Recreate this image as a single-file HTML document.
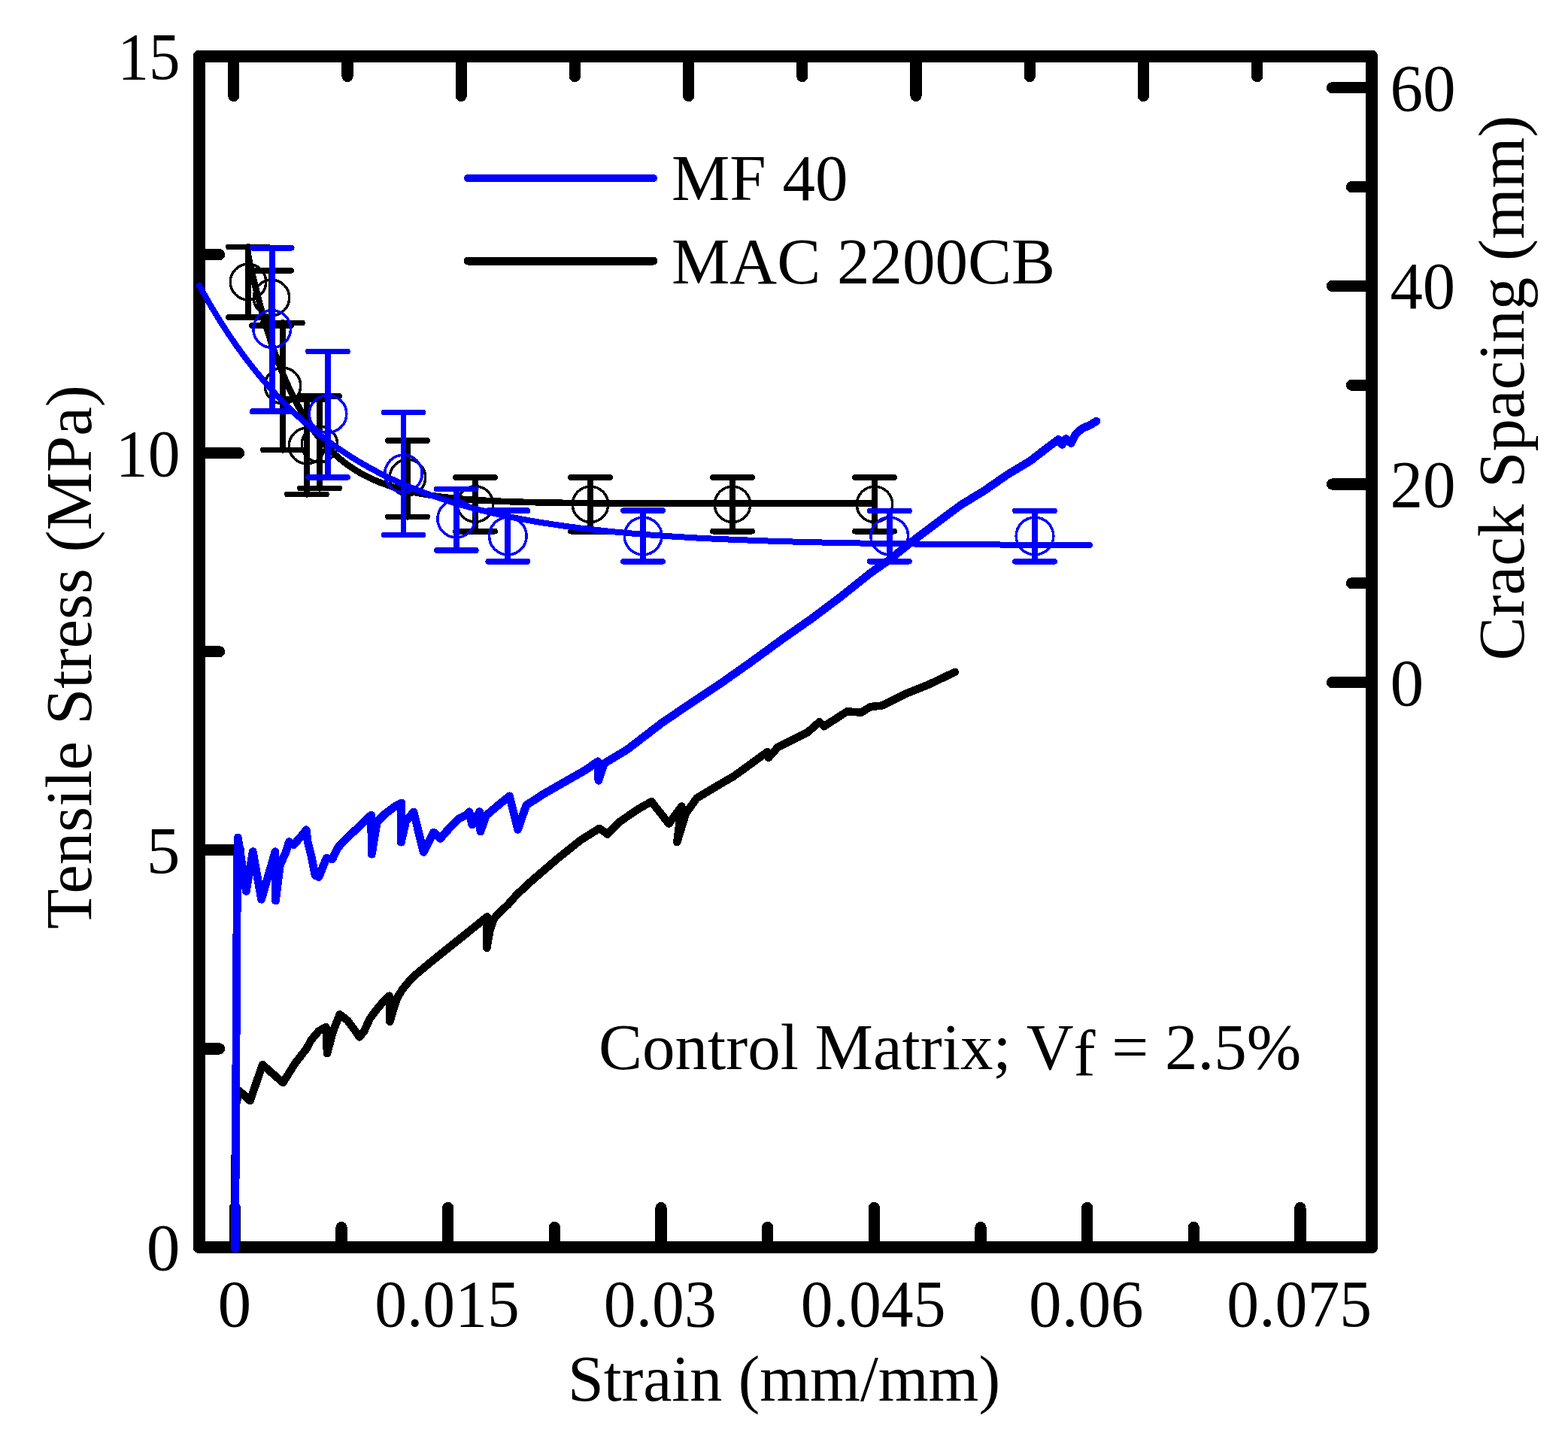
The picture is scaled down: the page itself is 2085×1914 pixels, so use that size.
<!DOCTYPE html>
<html><head><meta charset="utf-8"><title>Tensile stress and crack spacing vs strain</title>
<style>html,body{margin:0;padding:0;background:#fff;}body{width:2085px;height:1914px;overflow:hidden;}svg{display:block;}</style>
</head><body>
<svg width="2085" height="1914" viewBox="0 0 2085 1914" shape-rendering="crispEdges">
<rect x="0" y="0" width="2085" height="1914" fill="#fff"/>
<path d="M263.60,67.10H1825.40A6.5,6.5 0 0 1 1831.90,73.60V1660.40A6.5,6.5 0 0 1 1825.40,1666.90H263.60A6.5,6.5 0 0 1 257.10,1660.40V73.60A6.5,6.5 0 0 1 263.60,67.10ZM272.90,82.90V1651.10H1816.10V82.90Z" fill="#000" fill-rule="evenodd"/>
<g stroke="#000" stroke-width="15.2" stroke-linecap="round">
<line x1="310.8" y1="75.0" x2="310.8" y2="127.5"/>
<line x1="462.0" y1="75.0" x2="462.0" y2="101.5"/>
<line x1="613.2" y1="75.0" x2="613.2" y2="127.5"/>
<line x1="764.4" y1="75.0" x2="764.4" y2="101.5"/>
<line x1="915.6" y1="75.0" x2="915.6" y2="127.5"/>
<line x1="1066.8" y1="75.0" x2="1066.8" y2="101.5"/>
<line x1="1218.0" y1="75.0" x2="1218.0" y2="127.5"/>
<line x1="1369.2" y1="75.0" x2="1369.2" y2="101.5"/>
<line x1="1520.4" y1="75.0" x2="1520.4" y2="127.5"/>
<line x1="1671.6" y1="75.0" x2="1671.6" y2="101.5"/>
<line x1="312.4" y1="1659.0" x2="312.4" y2="1606.5"/>
<line x1="454.0" y1="1659.0" x2="454.0" y2="1632.5"/>
<line x1="595.7" y1="1659.0" x2="595.7" y2="1606.5"/>
<line x1="737.4" y1="1659.0" x2="737.4" y2="1632.5"/>
<line x1="879.0" y1="1659.0" x2="879.0" y2="1606.5"/>
<line x1="1020.6" y1="1659.0" x2="1020.6" y2="1632.5"/>
<line x1="1162.3" y1="1659.0" x2="1162.3" y2="1606.5"/>
<line x1="1304.0" y1="1659.0" x2="1304.0" y2="1632.5"/>
<line x1="1445.6" y1="1659.0" x2="1445.6" y2="1606.5"/>
<line x1="1587.2" y1="1659.0" x2="1587.2" y2="1632.5"/>
<line x1="1728.9" y1="1659.0" x2="1728.9" y2="1606.5"/>
<line x1="265.0" y1="1394.9" x2="291.5" y2="1394.9"/>
<line x1="265.0" y1="1130.8" x2="317.5" y2="1130.8"/>
<line x1="265.0" y1="866.8" x2="291.5" y2="866.8"/>
<line x1="265.0" y1="602.7" x2="317.5" y2="602.7"/>
<line x1="265.0" y1="338.6" x2="291.5" y2="338.6"/>
<line x1="1824.0" y1="907.6" x2="1771.5" y2="907.6"/>
<line x1="1824.0" y1="775.8" x2="1797.5" y2="775.8"/>
<line x1="1824.0" y1="644.0" x2="1771.5" y2="644.0"/>
<line x1="1824.0" y1="512.2" x2="1797.5" y2="512.2"/>
<line x1="1824.0" y1="380.4" x2="1771.5" y2="380.4"/>
<line x1="1824.0" y1="248.6" x2="1797.5" y2="248.6"/>
<line x1="1824.0" y1="116.8" x2="1771.5" y2="116.8"/>
</g>
<g font-family="'Liberation Serif', serif" font-size="87" fill="#000">
<text x="239.5" y="1689.3" text-anchor="end" font-size="89.5">0</text>
<text x="239.5" y="1161.1" text-anchor="end" font-size="89.5">5</text>
<text x="239.5" y="633.0" text-anchor="end" textLength="85.7" lengthAdjust="spacingAndGlyphs" font-size="89.5">10</text>
<text x="239.5" y="104.9" text-anchor="end" textLength="83" lengthAdjust="spacingAndGlyphs" font-size="89.5">15</text>
<text x="311.8" y="1763.5" text-anchor="middle" font-size="89.5">0</text>
<text x="594.5" y="1763.5" text-anchor="middle" textLength="192.7" lengthAdjust="spacingAndGlyphs" font-size="89.5">0.015</text>
<text x="877.8" y="1763.5" text-anchor="middle" textLength="149.9" lengthAdjust="spacingAndGlyphs" font-size="89.5">0.03</text>
<text x="1161.1" y="1763.5" text-anchor="middle" textLength="192.7" lengthAdjust="spacingAndGlyphs" font-size="89.5">0.045</text>
<text x="1444.4" y="1763.5" text-anchor="middle" textLength="152.6" lengthAdjust="spacingAndGlyphs" font-size="89.5">0.06</text>
<text x="1727.7" y="1763.5" text-anchor="middle" textLength="192.7" lengthAdjust="spacingAndGlyphs" font-size="89.5">0.075</text>
<text x="1848.5" y="937.6" text-anchor="start" font-size="89.5">0</text>
<text x="1848.5" y="674.0" text-anchor="start" textLength="87.2" lengthAdjust="spacingAndGlyphs" font-size="89.5">20</text>
<text x="1848.5" y="410.4" text-anchor="start" textLength="86.7" lengthAdjust="spacingAndGlyphs" font-size="89.5">40</text>
<text x="1848.5" y="146.8" text-anchor="start" textLength="87.2" lengthAdjust="spacingAndGlyphs" font-size="89.5">60</text>
<text x="1042.5" y="1863.0" text-anchor="middle" textLength="575" lengthAdjust="spacingAndGlyphs">Strain (mm/mm)</text>
<text transform="translate(121,874) rotate(-90)" x="0" y="0" text-anchor="middle">Tensile Stress (MPa)</text>
<text transform="translate(2026,516) rotate(-90)" x="0" y="0" text-anchor="middle">Crack Spacing (mm)</text>
<text x="893.0" y="265.5" text-anchor="start">MF 40</text>
<text x="893.0" y="376.5" text-anchor="start">MAC 2200CB</text>
<text x="796" y="1421.5">Control Matrix; V<tspan dy="8">f</tspan><tspan dy="-8"> = 2.5%</tspan></text>
</g>
<line x1="622" y1="237" x2="869" y2="237" stroke="#0000ff" stroke-width="10" stroke-linecap="round"/>
<line x1="622" y1="347" x2="869" y2="347" stroke="#000" stroke-width="11" stroke-linecap="round"/>
<polyline points="311.5,1661.0 312.5,1560.0 313.5,1470.0 318.4,1451.0 332.6,1464.2 349.0,1416.1 376.3,1440.1 392.7,1413.9 408.0,1394.2 413.5,1383.5 423.8,1371.5 433.4,1366.0 435.0,1401.0 439.7,1383.5 442.9,1371.5 447.7,1359.6 451.7,1349.3 462.0,1357.2 471.5,1370.0 477.9,1379.5 484.3,1371.5 491.4,1355.6 499.4,1344.5 511.3,1330.2 517.6,1324.6 518.4,1358.8 524.0,1339.7 528.8,1326.2 535.1,1315.9 547.1,1301.5 555.0,1294.5 574.2,1278.5 596.0,1261.0 617.9,1243.5 647.8,1219.3 647.4,1260.9 651.4,1237.6 657.0,1221.7 663.3,1214.5 675.3,1203.4 687.2,1189.9 707.0,1171.6 741.6,1141.8 772.4,1117.2 797.0,1101.8 807.8,1109.5 824.8,1092.5 849.4,1075.6 866.3,1066.3 889.4,1095.6 906.4,1072.5 900.2,1120.2 912.0,1082.0 926.4,1061.7 957.2,1043.2 975.7,1032.5 1003.4,1012.4 1020.3,1000.1 1021.9,1007.8 1034.2,994.0 1074.2,973.9 1089.6,960.1 1095.8,966.2 1105.0,960.1 1126.6,946.2 1145.1,947.8 1157.4,940.1 1172.8,938.5 1203.6,923.1 1234.4,910.8 1269.8,893.9" fill="none" stroke="#000" stroke-width="10.5" stroke-linejoin="round" stroke-linecap="round"/>
<polyline points="330.0,340.0 332.0,349.1 334.0,358.0 336.0,366.6 338.0,375.0 340.0,383.2 342.0,391.1 344.0,398.9 346.0,406.4 348.0,413.6 350.0,420.7 352.0,427.6 354.0,434.3 356.0,440.9 358.0,447.2 360.0,453.4 362.0,459.4 364.0,465.2 366.0,470.8 368.0,476.4 370.0,481.7 372.0,486.9 374.0,492.0 376.0,496.9 378.0,501.7 380.0,506.3 382.0,510.9 384.0,515.3 386.0,519.5 388.0,523.7 390.0,527.7 392.0,531.7 394.0,535.5 396.0,539.2 398.0,542.8 400.0,546.3 402.0,549.8 404.0,553.1 406.0,556.3 408.0,559.5 410.0,562.5 412.0,565.5 414.0,568.4 416.0,571.2 418.0,573.9 420.0,576.6 422.0,579.1 424.0,581.6 426.0,584.1 428.0,586.5 430.0,588.8 432.0,591.0 434.0,593.2 436.0,595.3 438.0,597.4 440.0,599.4 442.0,601.3 444.0,603.2 446.0,605.1 448.0,606.8 450.0,608.6 452.0,610.3 454.0,611.9 456.0,613.5 458.0,615.1 460.0,616.6 462.0,618.1 464.0,619.5 466.0,620.9 468.0,622.2 470.0,623.6 472.0,624.8 474.0,626.1 476.0,627.3 478.0,628.5 480.0,629.6 482.0,630.7 484.0,631.8 486.0,632.8 488.0,633.9 490.0,634.9 492.0,635.8 494.0,636.8 496.0,637.7 498.0,638.6 500.0,639.4 502.0,640.3 504.0,641.1 506.0,641.9 508.0,642.6 510.0,643.4 512.0,644.1 514.0,644.8 516.0,645.5 518.0,646.2 520.0,646.8 522.0,647.5 524.0,648.1 526.0,648.7 528.0,649.3 530.0,649.8 532.0,650.4 534.0,650.9 536.0,651.4 538.0,651.9 540.0,652.4 542.0,652.9 544.0,653.4 546.0,653.8 548.0,654.3 550.0,654.7 552.0,655.1 554.0,655.5 556.0,655.9 558.0,656.3 560.0,656.7 562.0,657.0 564.0,657.4 566.0,657.7 568.0,658.0 570.0,658.4 572.0,658.7 574.0,659.0 576.0,659.3 578.0,659.6 580.0,659.9 582.0,660.1 584.0,660.4 586.0,660.7 588.0,660.9 590.0,661.1 592.0,661.4 594.0,661.6 596.0,661.8 598.0,662.1 600.0,662.3 602.0,662.5 604.0,662.7 606.0,662.9 608.0,663.1 610.0,663.2 612.0,663.4 614.0,663.6 616.0,663.8 618.0,663.9 620.0,664.1 622.0,664.2 624.0,664.4 626.0,664.5 628.0,664.7 630.0,664.8 632.0,665.0 634.0,665.1 636.0,665.2 638.0,665.3 640.0,665.5 642.0,665.6 644.0,665.7 646.0,665.8 648.0,665.9 650.0,666.0 652.0,666.1 654.0,666.2 656.0,666.3 658.0,666.4 660.0,666.5 662.0,666.6 664.0,666.7 666.0,666.8 668.0,666.8 670.0,666.9 672.0,667.0 674.0,667.1 676.0,667.1 678.0,667.2 680.0,667.3 682.0,667.4 684.0,667.4 686.0,667.5 688.0,667.5 690.0,667.6 692.0,667.7 694.0,667.7 696.0,667.8 698.0,667.8 700.0,667.9 702.0,667.9 704.0,668.0 706.0,668.0 708.0,668.1 710.0,668.1 712.0,668.2 714.0,668.2 716.0,668.2 718.0,668.3 720.0,668.3 722.0,668.4 724.0,668.4 726.0,668.4 728.0,668.5 730.0,668.5 732.0,668.5 734.0,668.6 736.0,668.6 738.0,668.6 740.0,668.7 742.0,668.7 744.0,668.7 746.0,668.7 748.0,668.8 750.0,668.8 752.0,668.8 754.0,668.8 756.0,668.9 758.0,668.9 760.0,668.9 762.0,668.9 764.0,669.0 766.0,669.0 768.0,669.0 770.0,669.0 772.0,669.0 774.0,669.1 776.0,669.1 778.0,669.1 780.0,669.1 782.0,669.1 784.0,669.1 786.0,669.2 788.0,669.2 790.0,669.2 792.0,669.2 794.0,669.2 796.0,669.2 798.0,669.2 800.0,669.3 802.0,669.3 804.0,669.3 806.0,669.3 808.0,669.3 810.0,669.3 812.0,669.3 814.0,669.3 816.0,669.3 818.0,669.4 820.0,669.4 822.0,669.4 824.0,669.4 826.0,669.4 828.0,669.4 830.0,669.4 832.0,669.4 834.0,669.4 836.0,669.4 838.0,669.4 840.0,669.4 842.0,669.5 844.0,669.5 846.0,669.5 848.0,669.5 850.0,669.5 852.0,669.5 854.0,669.5 856.0,669.5 858.0,669.5 860.0,669.5 862.0,669.5 864.0,669.5 866.0,669.5 868.0,669.5 870.0,669.5 872.0,669.5 874.0,669.5 876.0,669.5 878.0,669.6 880.0,669.6 882.0,669.6 884.0,669.6 886.0,669.6 888.0,669.6 890.0,669.6 892.0,669.6 894.0,669.6 896.0,669.6 898.0,669.6 900.0,669.6 902.0,669.6 904.0,669.6 906.0,669.6 908.0,669.6 910.0,669.6 912.0,669.6 914.0,669.6 916.0,669.6 918.0,669.6 920.0,669.6 922.0,669.6 924.0,669.6 926.0,669.6 928.0,669.6 930.0,669.6 932.0,669.6 934.0,669.6 936.0,669.6 938.0,669.6 940.0,669.6 942.0,669.6 944.0,669.6 946.0,669.6 948.0,669.6 950.0,669.6 952.0,669.6 954.0,669.6 956.0,669.6 958.0,669.7 960.0,669.7 962.0,669.7 964.0,669.7 966.0,669.7 968.0,669.7 970.0,669.7 972.0,669.7 974.0,669.7 976.0,669.7 978.0,669.7 980.0,669.7 982.0,669.7 984.0,669.7 986.0,669.7 988.0,669.7 990.0,669.7 992.0,669.7 994.0,669.7 996.0,669.7 998.0,669.7 1000.0,669.7 1002.0,669.7 1004.0,669.7 1006.0,669.7 1008.0,669.7 1010.0,669.7 1012.0,669.7 1014.0,669.7 1016.0,669.7 1018.0,669.7 1020.0,669.7 1022.0,669.7 1024.0,669.7 1026.0,669.7 1028.0,669.7 1030.0,669.7 1032.0,669.7 1034.0,669.7 1036.0,669.7 1038.0,669.7 1040.0,669.7 1042.0,669.7 1044.0,669.7 1046.0,669.7 1048.0,669.7 1050.0,669.7 1052.0,669.7 1054.0,669.7 1056.0,669.7 1058.0,669.7 1060.0,669.7 1062.0,669.7 1064.0,669.7 1066.0,669.7 1068.0,669.7 1070.0,669.7 1072.0,669.7 1074.0,669.7 1076.0,669.7 1078.0,669.7 1080.0,669.7 1082.0,669.7 1084.0,669.7 1086.0,669.7 1088.0,669.7 1090.0,669.7 1092.0,669.7 1094.0,669.7 1096.0,669.7 1098.0,669.7 1100.0,669.7 1102.0,669.7 1104.0,669.7 1106.0,669.7 1108.0,669.7 1110.0,669.7 1112.0,669.7 1114.0,669.7 1116.0,669.7 1118.0,669.7 1120.0,669.7 1122.0,669.7 1124.0,669.7 1126.0,669.7 1128.0,669.7 1130.0,669.7 1132.0,669.7 1134.0,669.7 1136.0,669.7 1138.0,669.7 1140.0,669.7 1142.0,669.7 1144.0,669.7 1146.0,669.7 1148.0,669.7 1150.0,669.7 1152.0,669.7 1154.0,669.7 1156.0,669.7 1158.0,669.7 1160.0,669.7 1162.0,669.7 1163.0,669.7" fill="none" stroke="#000" stroke-width="8.6" stroke-linejoin="round" stroke-linecap="butt"/>
<g stroke="#000" fill="none" stroke-linecap="round">
<path d="M330,328.5V422" stroke-width="8.6"/>
<path d="M304.0,328.5H356.0M304.0,422H356.0" stroke-width="7.8"/>
<circle cx="330" cy="375" r="23.7" stroke-width="3.5"/>
<path d="M361,359.7V433" stroke-width="8.6"/>
<path d="M335.0,359.7H387.0M335.0,433H387.0" stroke-width="7.8"/>
<circle cx="361" cy="396" r="23.7" stroke-width="3.5"/>
<path d="M376,429.5V598.4" stroke-width="8.6"/>
<path d="M350.0,429.5H402.0M350.0,598.4H402.0" stroke-width="7.8"/>
<circle cx="376" cy="513" r="23.7" stroke-width="3.5"/>
<path d="M408,531V657.5" stroke-width="8.6"/>
<path d="M382.0,531H434.0M382.0,657.5H434.0" stroke-width="7.8"/>
<circle cx="408" cy="593" r="23.7" stroke-width="3.5"/>
<path d="M425,527V649.4" stroke-width="8.6"/>
<path d="M399.0,527H451.0M399.0,649.4H451.0" stroke-width="7.8"/>
<circle cx="425" cy="591" r="23.7" stroke-width="3.5"/>
<path d="M542,586V687.4" stroke-width="8.6"/>
<path d="M516.0,586H568.0M516.0,687.4H568.0" stroke-width="7.8"/>
<circle cx="542" cy="635" r="23.7" stroke-width="3.5"/>
<path d="M632,635V706.6" stroke-width="8.6"/>
<path d="M606.0,635H658.0M606.0,706.6H658.0" stroke-width="7.8"/>
<circle cx="632" cy="670.5" r="23.7" stroke-width="3.5"/>
<path d="M785,635V706.6" stroke-width="8.6"/>
<path d="M759.0,635H811.0M759.0,706.6H811.0" stroke-width="7.8"/>
<circle cx="785" cy="670.8" r="23.7" stroke-width="3.5"/>
<path d="M974,635V706.6" stroke-width="8.6"/>
<path d="M948.0,635H1000.0M948.0,706.6H1000.0" stroke-width="7.8"/>
<circle cx="974" cy="670.8" r="23.7" stroke-width="3.5"/>
<path d="M1163,635V706.6" stroke-width="8.6"/>
<path d="M1137.0,635H1189.0M1137.0,706.6H1189.0" stroke-width="7.8"/>
<circle cx="1163" cy="670.8" r="23.7" stroke-width="3.5"/>
</g>
<polyline points="312.6,1661.0 313.5,1500.0 314.5,1300.0 315.5,1160.0 316.3,1114.0 327.3,1185.3 336.2,1132.7 347.6,1196.2 366.0,1132.7 366.5,1198.0 372.5,1149.5 379.4,1135.6 384.4,1119.7 390.3,1123.7 399.3,1113.8 407.2,1103.8 409.2,1119.7 414.2,1139.6 419.2,1164.5 424.1,1166.4 429.1,1153.5 434.1,1141.6 442.0,1142.6 449.0,1127.7 458.9,1116.8 473.8,1102.9 493.6,1084.1 494.3,1136.2 501.3,1093.1 511.7,1082.7 525.6,1072.3 534.0,1068.1 533.3,1120.2 539.5,1093.1 550.0,1079.9 563.2,1133.4 576.4,1107.0 585.4,1115.4 595.2,1104.2 610.0,1088.9 619.0,1084.7 624.0,1079.7 627.7,1097.1 637.7,1079.7 638.9,1105.8 646.4,1084.7 662.5,1071.0 677.5,1058.8 688.6,1103.3 699.8,1071.0 723.6,1055.6 755.4,1037.4 779.2,1023.8 795.1,1012.7 795.9,1038.2 803.2,1015.5 834.0,997.0 879.5,962.0 919.2,934.9 959.0,908.5 998.7,880.5 1038.5,851.4 1078.2,823.6 1117.9,793.8 1157.7,762.0 1181.8,745.1 1213.6,719.7 1245.4,695.8 1277.2,672.0 1309.0,652.5 1340.0,631.0 1370.0,613.0 1389.4,598.0 1407.3,584.6 1412.3,591.5 1417.2,583.6 1424.2,589.5 1430.2,577.6 1439.1,569.7 1449.0,565.7 1458.0,560.2" fill="none" stroke="#0000ff" stroke-width="10.8" stroke-linejoin="round" stroke-linecap="round"/>
<polyline points="265.0,379.6 268.0,385.1 271.0,390.5 274.0,395.8 277.0,401.0 280.0,406.2 283.0,411.2 286.0,416.2 289.0,421.1 292.0,426.0 295.0,430.7 298.0,435.4 301.0,440.0 304.0,444.5 307.0,449.0 310.0,453.4 313.0,457.7 316.0,462.0 319.0,466.1 322.0,470.3 325.0,474.3 328.0,478.3 331.0,482.2 334.0,486.1 337.0,489.9 340.0,493.6 343.0,497.3 346.0,500.9 349.0,504.5 352.0,508.0 355.0,511.5 358.0,514.9 361.0,518.2 364.0,521.5 367.0,524.7 370.0,527.9 373.0,531.0 376.0,534.1 379.0,537.2 382.0,540.2 385.0,543.1 388.0,546.0 391.0,548.9 394.0,551.7 397.0,554.4 400.0,557.1 403.0,559.8 406.0,562.4 409.0,565.0 412.0,567.6 415.0,570.1 418.0,572.6 421.0,575.0 424.0,577.4 427.0,579.7 430.0,582.0 433.0,584.3 436.0,586.6 439.0,588.8 442.0,590.9 445.0,593.1 448.0,595.2 451.0,597.2 454.0,599.3 457.0,601.3 460.0,603.3 463.0,605.2 466.0,607.1 469.0,609.0 472.0,610.8 475.0,612.7 478.0,614.5 481.0,616.2 484.0,618.0 487.0,619.7 490.0,621.3 493.0,623.0 496.0,624.6 499.0,626.2 502.0,627.8 505.0,629.4 508.0,630.9 511.0,632.4 514.0,633.9 517.0,635.3 520.0,636.8 523.0,638.2 526.0,639.6 529.0,640.9 532.0,642.3 535.0,643.6 538.0,644.9 541.0,646.2 544.0,647.4 547.0,648.7 550.0,649.9 553.0,651.1 556.0,652.3 559.0,653.4 562.0,654.6 565.0,655.7 568.0,656.8 571.0,657.9 574.0,659.0 577.0,660.1 580.0,661.1 583.0,662.1 586.0,663.1 589.0,664.1 592.0,665.1 595.0,666.1 598.0,667.0 601.0,667.9 604.0,668.8 607.0,669.7 610.0,670.6 613.0,671.5 616.0,672.4 619.0,673.2 622.0,674.0 625.0,674.9 628.0,675.7 631.0,676.5 634.0,677.2 637.0,678.0 640.0,678.8 643.0,679.5 646.0,680.2 649.0,681.0 652.0,681.7 655.0,682.4 658.0,683.1 661.0,683.7 664.0,684.4 667.0,685.0 670.0,685.7 673.0,686.3 676.0,687.0 679.0,687.6 682.0,688.2 685.0,688.8 688.0,689.3 691.0,689.9 694.0,690.5 697.0,691.0 700.0,691.6 703.0,692.1 706.0,692.7 709.0,693.2 712.0,693.7 715.0,694.2 718.0,694.7 721.0,695.2 724.0,695.7 727.0,696.2 730.0,696.6 733.0,697.1 736.0,697.5 739.0,698.0 742.0,698.4 745.0,698.9 748.0,699.3 751.0,699.7 754.0,700.1 757.0,700.5 760.0,700.9 763.0,701.3 766.0,701.7 769.0,702.1 772.0,702.5 775.0,702.8 778.0,703.2 781.0,703.5 784.0,703.9 787.0,704.2 790.0,704.6 793.0,704.9 796.0,705.2 799.0,705.6 802.0,705.9 805.0,706.2 808.0,706.5 811.0,706.8 814.0,707.1 817.0,707.4 820.0,707.7 823.0,708.0 826.0,708.3 829.0,708.5 832.0,708.8 835.0,709.1 838.0,709.3 841.0,709.6 844.0,709.8 847.0,710.1 850.0,710.3 853.0,710.6 856.0,710.8 859.0,711.1 862.0,711.3 865.0,711.5 868.0,711.7 871.0,712.0 874.0,712.2 877.0,712.4 880.0,712.6 883.0,712.8 886.0,713.0 889.0,713.2 892.0,713.4 895.0,713.6 898.0,713.8 901.0,714.0 904.0,714.2 907.0,714.4 910.0,714.5 913.0,714.7 916.0,714.9 919.0,715.1 922.0,715.2 925.0,715.4 928.0,715.6 931.0,715.7 934.0,715.9 937.0,716.0 940.0,716.2 943.0,716.3 946.0,716.5 949.0,716.6 952.0,716.8 955.0,716.9 958.0,717.0 961.0,717.2 964.0,717.3 967.0,717.4 970.0,717.6 973.0,717.7 976.0,717.8 979.0,718.0 982.0,718.1 985.0,718.2 988.0,718.3 991.0,718.4 994.0,718.5 997.0,718.7 1000.0,718.8 1003.0,718.9 1006.0,719.0 1009.0,719.1 1012.0,719.2 1015.0,719.3 1018.0,719.4 1021.0,719.5 1024.0,719.6 1027.0,719.7 1030.0,719.8 1033.0,719.9 1036.0,720.0 1039.0,720.1 1042.0,720.1 1045.0,720.2 1048.0,720.3 1051.0,720.4 1054.0,720.5 1057.0,720.6 1060.0,720.7 1063.0,720.7 1066.0,720.8 1069.0,720.9 1072.0,721.0 1075.0,721.0 1078.0,721.1 1081.0,721.2 1084.0,721.3 1087.0,721.3 1090.0,721.4 1093.0,721.5 1096.0,721.5 1099.0,721.6 1102.0,721.7 1105.0,721.7 1108.0,721.8 1111.0,721.8 1114.0,721.9 1117.0,722.0 1120.0,722.0 1123.0,722.1 1126.0,722.1 1129.0,722.2 1132.0,722.2 1135.0,722.3 1138.0,722.4 1141.0,722.4 1144.0,722.5 1147.0,722.5 1150.0,722.6 1153.0,722.6 1156.0,722.7 1159.0,722.7 1162.0,722.7 1165.0,722.8 1168.0,722.8 1171.0,722.9 1174.0,722.9 1177.0,723.0 1180.0,723.0 1183.0,723.1 1186.0,723.1 1189.0,723.1 1192.0,723.2 1195.0,723.2 1198.0,723.3 1201.0,723.3 1204.0,723.3 1207.0,723.4 1210.0,723.4 1213.0,723.4 1216.0,723.5 1219.0,723.5 1222.0,723.5 1225.0,723.6 1228.0,723.6 1231.0,723.6 1234.0,723.7 1237.0,723.7 1240.0,723.7 1243.0,723.8 1246.0,723.8 1249.0,723.8 1252.0,723.9 1255.0,723.9 1258.0,723.9 1261.0,723.9 1264.0,724.0 1267.0,724.0 1270.0,724.0 1273.0,724.0 1276.0,724.1 1279.0,724.1 1282.0,724.1 1285.0,724.1 1288.0,724.2 1291.0,724.2 1294.0,724.2 1297.0,724.2 1300.0,724.3 1303.0,724.3 1306.0,724.3 1309.0,724.3 1312.0,724.3 1315.0,724.4 1318.0,724.4 1321.0,724.4 1324.0,724.4 1327.0,724.4 1330.0,724.5 1333.0,724.5 1336.0,724.5 1339.0,724.5 1342.0,724.5 1345.0,724.6 1348.0,724.6 1351.0,724.6 1354.0,724.6 1357.0,724.6 1360.0,724.6 1363.0,724.7 1366.0,724.7 1369.0,724.7 1372.0,724.7 1375.0,724.7 1378.0,724.7 1381.0,724.7 1384.0,724.8 1387.0,724.8 1390.0,724.8 1393.0,724.8 1396.0,724.8 1399.0,724.8 1402.0,724.8 1405.0,724.9 1408.0,724.9 1411.0,724.9 1414.0,724.9 1417.0,724.9 1420.0,724.9 1423.0,724.9 1426.0,724.9 1429.0,725.0 1432.0,725.0 1435.0,725.0 1438.0,725.0 1441.0,725.0 1444.0,725.0 1447.0,725.0 1449.0,725.0" fill="none" stroke="#0000ff" stroke-width="8" stroke-linejoin="round" stroke-linecap="round"/>
<g stroke="#0000ff" fill="none" stroke-linecap="round">
<path d="M361.7,329.7V547.2M335.7,329.7H387.7M335.7,547.2H387.7" stroke-width="7.8"/>
<circle cx="361.7" cy="437.6" r="24.8" stroke-width="3.6"/>
<path d="M436,467.5V634.8M410.0,467.5H462.0M410.0,634.8H462.0" stroke-width="7.8"/>
<circle cx="436" cy="550.5" r="24.8" stroke-width="3.6"/>
<path d="M536.5,548.4V711.5M510.5,548.4H562.5M510.5,711.5H562.5" stroke-width="7.8"/>
<circle cx="536.5" cy="630" r="24.8" stroke-width="3.6"/>
<path d="M606.7,650.5V732M580.7,650.5H632.7M580.7,732H632.7" stroke-width="7.8"/>
<circle cx="606.7" cy="690" r="24.8" stroke-width="3.6"/>
<path d="M675.3,679.2V746.8M649.3,679.2H701.3M649.3,746.8H701.3" stroke-width="7.8"/>
<circle cx="675.3" cy="713" r="24.8" stroke-width="3.6"/>
<path d="M855.1,679.2V746.8M829.1,679.2H881.1M829.1,746.8H881.1" stroke-width="7.8"/>
<circle cx="855.1" cy="713" r="24.8" stroke-width="3.6"/>
<path d="M1182.8,679.5V746.7M1156.8,679.5H1208.8M1156.8,746.7H1208.8" stroke-width="7.8"/>
<circle cx="1182.8" cy="713" r="24.8" stroke-width="3.6"/>
<path d="M1376,679.5V746.7M1350.0,679.5H1402.0M1350.0,746.7H1402.0" stroke-width="7.8"/>
<circle cx="1376" cy="713" r="24.8" stroke-width="3.6"/>
</g>
</svg>
</body></html>
